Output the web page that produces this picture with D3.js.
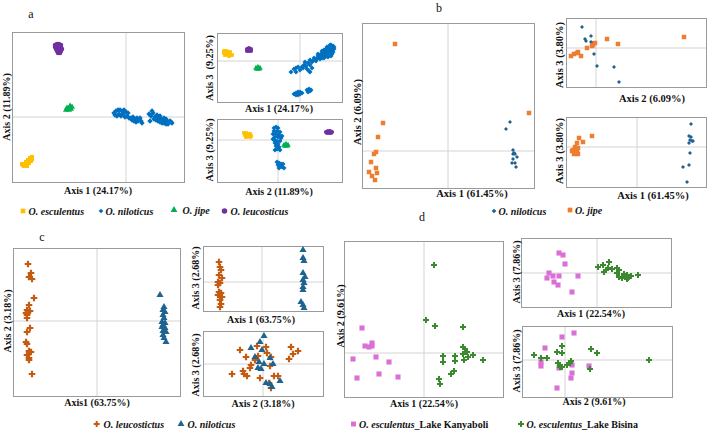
<!DOCTYPE html>
<html><head><meta charset="utf-8">
<script src="https://cdn.jsdelivr.net/npm/d3@7"></script>
<style>
body{margin:0;background:#fff}
svg{display:block}
text{font-family:"Liberation Serif","Times New Roman",serif;fill:#111}
</style>
</head><body>
<svg id="chart" width="709" height="432"></svg>
<script>
// ---------- DATA (PCoA scores) ----------
// Panel a : four species
const aSpecies = ["O. esculentus", "O. niloticus", "O. jipe", "O. leucosticus"];
const aAxisLabels = ["Axis 1 (24.17%)", "Axis 2 (11.89%)", "Axis 3 (9.25%)"];
// Axis1 vs Axis2
const aEsc12 = [[-1.03,-0.48],[-1.01,-0.47],[-0.99,-0.46],[-0.97,-0.44],[-0.95,-0.42],[-0.94,-0.40],[-1.02,-0.49],[-1.00,-0.45],[-0.98,-0.43],[-0.96,-0.41],[-1.00,-0.48],[-0.97,-0.46],[-0.95,-0.44],[-1.04,-0.47],[-0.99,-0.49],[-0.94,-0.42]];
const aNil12 = [[-0.12,0.04],[-0.10,0.06],[-0.08,0.07],[-0.06,0.07],[-0.04,0.06],[-0.02,0.07],[0.00,0.05],[0.02,0.04],[-0.07,0.03],[-0.05,0.01],[-0.03,0.03],[-0.01,0.00],[-0.09,0.01],[-0.11,0.02],[0.01,0.01],[0.03,-0.01],
  [0.05,-0.01],[0.07,0.00],[0.09,-0.02],[0.11,-0.01],[0.13,-0.03],[0.15,-0.04],[0.08,-0.04],[0.10,-0.05],[0.12,-0.04],[0.06,-0.03],[0.14,-0.01],[0.16,-0.06],
  [0.23,0.03],[0.25,0.01],[0.27,0.04],[0.29,0.00],[0.31,0.02],[0.33,-0.01],[0.35,-0.02],[0.37,-0.03],[0.39,-0.04],[0.41,-0.04],[0.43,-0.05],[0.45,-0.05],[0.30,-0.03],[0.32,-0.04],[0.34,-0.05],[0.36,-0.06],[0.38,-0.06],[0.40,-0.07],[0.42,-0.07],[0.44,-0.04],[0.46,-0.06],[0.28,-0.02],[0.24,-0.04],[0.26,0.06],[0.34,0.01],[0.38,-0.01],[0.40,-0.02],[0.36,-0.04],[0.32,0.00]];
const aJip12 = [[-0.60,0.07],[-0.58,0.08],[-0.56,0.09],[-0.54,0.10],[-0.57,0.07],[-0.55,0.08],[-0.59,0.09],[-0.56,0.11]];
const aLeu12 = [[-0.71,0.72],[-0.69,0.73],[-0.67,0.73],[-0.65,0.72],[-0.71,0.70],[-0.69,0.70],[-0.67,0.70],[-0.65,0.70],[-0.70,0.68],[-0.68,0.68],[-0.66,0.68],[-0.64,0.68],[-0.69,0.66],[-0.67,0.66],[-0.65,0.66],[-0.68,0.64],[-0.66,0.64],[-0.70,0.71],[-0.68,0.72]];
// Axis1 vs Axis3
const aEsc13 = [[-0.76,0.10],[-0.74,0.10],[-0.72,0.09],[-0.70,0.09],[-0.76,0.08],[-0.74,0.07],[-0.72,0.07],[-0.70,0.06],[-0.68,0.06],[-0.75,0.06],[-0.71,0.05],[-0.73,0.09]];
const aNil13 = [[0.14,0.01],[0.16,0.02],[0.18,0.03],[0.20,0.04],[0.22,0.05],[0.24,0.06],[0.26,0.07],[0.28,0.09],[0.30,0.11],[0.32,0.13],[0.20,0.06],[0.22,0.08],[0.24,0.09],[0.26,0.10],[0.28,0.12],[0.30,0.14],[0.18,0.05],[0.26,0.05],[0.28,0.06],[0.30,0.08],[0.32,0.10],[0.22,0.03],[0.16,0.00],[0.33,0.15],[0.31,0.16],[0.29,0.14],
  [0.18,0.07],[0.24,0.03],[0.28,0.04],[0.26,0.12],[0.32,0.07],[0.30,0.16],[0.34,0.12],[0.33,0.09],[0.20,0.02],[0.14,0.03],[0.24,0.11],[0.22,0.10],[0.27,0.14],[0.31,0.05],[0.34,0.14],[0.25,0.08],[0.29,0.10],
  [0.10,0.01],[0.12,-0.01],[0.08,-0.02],[0.06,-0.05],[0.04,-0.04],[0.02,-0.06],[-0.02,-0.06],[-0.04,-0.07],[-0.06,-0.08],[-0.09,-0.11],[0.07,-0.08],[0.10,-0.04],[0.12,-0.07],[0.05,-0.01],[0.00,-0.09],[-0.04,-0.11],[0.10,-0.11],[0.09,-0.10],[0.03,-0.07],
  [-0.06,-0.33],[-0.04,-0.32],[-0.02,-0.31],[0.00,-0.31],[-0.04,-0.34],[-0.02,-0.34],[0.00,-0.33],[0.02,-0.32],
  [0.07,-0.29],[0.09,-0.28],[0.11,-0.29],[0.08,-0.31],[0.10,-0.30]];
const aJip13 = [[-0.44,-0.07],[-0.42,-0.06],[-0.40,-0.07],[-0.43,-0.08],[-0.41,-0.08]];
const aLeu13 = [[-0.53,0.12],[-0.51,0.13],[-0.49,0.12],[-0.53,0.10],[-0.51,0.10],[-0.49,0.10],[-0.52,0.11],[-0.50,0.11]];
// Axis2 vs Axis3
const aEsc23 = [[-0.34,0.07],[-0.32,0.07],[-0.30,0.06],[-0.28,0.06],[-0.33,0.05],[-0.31,0.04],[-0.29,0.04],[-0.27,0.04],[-0.32,0.03],[-0.28,0.03]];
const aNil23 = [[-0.04,0.12],[-0.02,0.13],[0.00,0.12],[-0.04,0.09],[-0.01,0.09],[0.02,0.08],[-0.05,0.06],[-0.02,0.06],[0.01,0.05],[-0.03,0.03],[0.00,0.03],[0.03,0.02],[-0.04,0.00],[-0.01,-0.01],[0.02,-0.01],[-0.03,-0.03],[0.00,-0.04],[-0.02,-0.06],[0.01,-0.07],[-0.01,-0.09],[-0.03,-0.10],[0.02,-0.10],[0.04,0.04],[-0.05,0.01],
  [-0.01,-0.22],[0.01,-0.23],[0.03,-0.24],[0.05,-0.24],[0.00,-0.25],[0.02,-0.26],[0.04,-0.27],[0.06,-0.28],[0.01,-0.28]];
const aJip23 = [[0.06,-0.05],[0.08,-0.04],[0.10,-0.05],[0.07,-0.06],[0.09,-0.06]];
const aLeu23 = [[0.48,0.08],[0.50,0.09],[0.52,0.09],[0.54,0.08],[0.49,0.07],[0.51,0.07],[0.53,0.07]];

// Panel b : O. niloticus vs O. jipe
const bSpecies = ["O. niloticus", "O. jipe"];
const bAxisLabels = ["Axis 1 (61.45%)", "Axis 2 (6.09%)", "Axis 3 (3.80%)"];
const bJip12 = [[-0.53,1.07],[-0.65,0.28],[-0.70,0.14],[-0.72,-0.01],[-0.74,-0.03],[-0.77,-0.11],[-0.72,-0.17],[-0.79,-0.21],[-0.71,-0.22],[-0.76,-0.25],[-0.73,-0.29],[0.81,0.38]];
const bNil12 = [[0.62,0.29],[0.58,0.22],[0.65,0.01],[0.66,-0.02],[0.65,-0.03],[0.67,-0.03],[0.69,-0.06],[0.65,-0.08],[0.64,-0.12],[0.67,-0.12],[0.68,-0.16]];
const bNil23 = [[-0.14,0.21],[-0.11,0.09],[-0.10,0.07],[-0.05,0.12],[-0.05,0.06],[-0.04,0.05],[-0.02,-0.06],[0.01,-0.18],[0.18,-0.19],[0.23,-0.34]];
const bJip23 = [[-0.25,-0.08],[-0.22,-0.06],[-0.19,-0.05],[-0.18,-0.04],[-0.15,-0.08],[-0.09,0.00],[-0.04,0.02],[-0.03,0.03],[-0.01,0.05],[0.11,0.09],[0.22,0.04],[0.88,0.11]];
const bJip13 = [[-0.45,0.11],[-0.54,0.05],[-0.58,0.09],[-0.60,0.04],[-0.62,0.00],[-0.64,-0.03],[-0.65,-0.04],[-0.61,-0.06],[-0.59,-0.07],[-0.63,-0.07],[-0.60,-0.04],[-0.59,-0.01]];
const bNil13 = [[0.54,0.23],[0.52,0.11],[0.54,0.10],[0.53,0.07],[0.55,0.06],[0.56,0.06],[0.52,0.04],[0.53,-0.06],[0.46,-0.20],[0.52,-0.18],[0.50,-0.35]];

// Panel c : O. leucostictus vs O. niloticus
const cSpecies = ["O. leucostictus", "O. niloticus"];
const cAxisLabels = ["Axis1 (63.75%)", "Axis 2 (3.18%)", "Axis 3 (2.68%)", "Axis 1 (63.75%)"];
const cLeu12 = [[-0.69,0.57],[-0.66,0.48],[-0.68,0.44],[-0.65,0.42],[-0.63,0.23],[-0.68,0.16],[-0.70,0.11],[-0.67,0.10],[-0.71,0.08],[-0.70,0.06],[-0.69,0.09],[-0.70,0.03],[-0.67,-0.07],[-0.70,-0.11],[-0.71,-0.21],[-0.70,-0.23],[-0.68,-0.30],[-0.66,-0.31],[-0.70,-0.34],[-0.68,-0.37],[-0.68,-0.39],[-0.65,-0.53]];
const cNil12 = [[0.63,0.26],[0.67,0.14],[0.66,0.11],[0.68,0.09],[0.66,0.06],[0.67,0.03],[0.65,-0.01],[0.68,-0.02],[0.66,-0.04],[0.65,-0.06],[0.68,-0.07],[0.66,-0.10],[0.69,-0.11],[0.67,-0.17],[0.69,-0.21],[0.66,-0.14]];
const cLeu13 = [[-0.43,0.20],[-0.42,0.15],[-0.41,0.12],[-0.43,0.07],[-0.40,0.04],[-0.44,0.00],[-0.42,-0.01],[-0.44,-0.03],[-0.43,-0.10],[-0.41,-0.11],[-0.44,-0.13],[-0.40,-0.15],[-0.42,-0.18],[-0.41,-0.22],[-0.42,-0.25]];
const cNil13 = [[0.41,0.32],[0.41,0.24],[0.42,0.21],[0.41,0.09],[0.43,0.05],[0.41,0.02],[0.42,-0.01],[0.41,-0.05],[0.41,-0.08],[0.39,-0.20],[0.41,-0.23],[0.42,-0.26]];
const cLeu23 = [[-0.23,0.14],[-0.17,0.07],[-0.06,0.18],[0.03,0.17],[0.04,0.11],[0.08,0.07],[-0.08,0.04],[-0.12,-0.01],[-0.13,-0.04],[-0.31,-0.10],[-0.20,-0.07],[-0.19,-0.10],[-0.16,-0.12],[-0.03,-0.14],[0.07,-0.02],[0.11,-0.12],[0.15,-0.12],[0.06,-0.19],[0.08,-0.24],[0.28,0.17],[0.35,0.13],[0.30,0.10],[0.26,0.05],[-0.05,0.08]];
const cNil23 = [[0.01,0.28],[-0.03,0.22],[-0.12,0.16],[-0.01,0.14],[-0.08,0.07],[0.07,0.06],[-0.04,0.02],[0.10,0.00],[-0.05,-0.04],[0.01,0.00],[0.03,-0.19],[0.07,-0.20],[0.09,-0.23],[0.17,-0.17],[-0.02,-0.05]];

// Panel d : O. esculentus, two lakes
const dGroups = ["Lake Kanyaboli", "Lake Bisina"];
const dAxisLabels = ["Axis 1 (22.54%)", "Axis 2 (9.61%)", "Axis 3 (7.86%)"];
const dKan12 = [[-0.62,0.25],[-0.59,0.07],[-0.55,0.06],[-0.52,0.10],[-0.52,0.07],[-0.71,-0.06],[-0.48,-0.04],[-0.35,-0.09],[-0.67,-0.25],[-0.45,-0.21],[-0.26,-0.24]];
const dBis12 = [[0.10,0.88],[0.02,0.33],[0.11,0.27],[0.39,0.26],[0.39,0.06],[0.41,0.04],[0.43,0.01],[0.19,-0.03],[0.31,-0.03],[0.39,-0.01],[0.44,-0.04],[0.49,-0.02],[0.59,-0.07],[0.19,-0.09],[0.31,-0.08],[0.40,-0.07],[0.30,-0.18],[0.27,-0.21],[0.15,-0.26],[0.16,-0.31]];
const dKan13 = [[-0.38,0.20],[-0.34,0.18],[-0.32,0.09],[-0.48,0.00],[-0.50,-0.05],[-0.44,-0.03],[-0.38,-0.03],[-0.43,-0.09],[-0.39,-0.12],[-0.19,-0.03],[-0.25,-0.19]];
const dBis13 = [[0.01,0.06],[0.06,0.08],[0.07,0.01],[0.12,0.11],[0.11,0.05],[0.09,0.03],[0.15,0.04],[0.20,0.05],[0.22,0.03],[0.22,-0.04],[0.27,-0.01],[0.28,-0.04],[0.30,-0.06],[0.31,-0.05],[0.34,-0.03],[0.41,-0.02],[0.20,0.00],[0.25,-0.05],[0.30,-0.02]];
const dKan23 = [[-0.03,0.23],[-0.20,0.12],[-0.24,-0.02],[-0.24,-0.06],[-0.06,-0.08],[-0.08,-0.28],[0.09,0.27],[0.07,-0.05],[0.07,-0.13],[0.06,-0.18],[0.24,-0.06]];
const dBis23 = [[-0.31,0.05],[-0.24,0.02],[-0.18,0.02],[-0.08,0.08],[-0.03,0.14],[-0.07,-0.03],[-0.03,-0.07],[0.02,-0.05],[0.05,-0.03],[-0.03,0.07],[0.06,-0.01],[0.26,0.11],[0.32,0.07],[0.84,0.00],[0.25,-0.09],[-0.05,-0.07]];

// ---------- STYLE ----------
const C = {
  yellow:"#FFC000", blue:"#0070C0", green:"#00B050", purple:"#7030A0",
  orange:"#ED7D31", teal:"#1F6391", rust:"#C55A11", pink:"#DA70D6", dgreen:"#3B8A2F"
};
const SYM = {square:d3.symbolSquare, diamond:d3.symbolDiamond2, triangle:d3.symbolTriangle, circle:d3.symbolCircle, cross:d3.symbolCross};

const svg = d3.select("#chart");

function ser(data, shape, color, size){ return {data, shape, color, size}; }

const plots = [
  // panel a
  {f:[12,32,172,150], xd:[-1.14,0.58], yd:[-0.65,0.85], xl:[aAxisLabels[0],98,190], yl:[aAxisLabels[1],6,107], fs:10,
   s:[ser(aNil12,"diamond",C.blue,18), ser(aJip12,"triangle",C.green,16), ser(aLeu12,"circle",C.purple,16), ser(aEsc12,"square",C.yellow,16)]},
  {f:[217,33,125,69], xd:[-0.83,0.42], yd:[-0.41,0.28], xl:[aAxisLabels[0],279,108], yl:["Axis 3\u00a0\u00a0(9.25%)",209,68], fs:10,
   s:[ser(aNil13,"diamond",C.blue,16), ser(aJip13,"triangle",C.green,14), ser(aLeu13,"circle",C.purple,14), ser(aEsc13,"square",C.yellow,14)]},
  {f:[217,119,125,63], xd:[-0.61,0.64], yd:[-0.42,0.21], xl:[aAxisLabels[1],279,191], yl:[aAxisLabels[2],209,150], fs:10,
   s:[ser(aNil23,"diamond",C.blue,16), ser(aJip23,"triangle",C.green,14), ser(aLeu23,"circle",C.purple,14), ser(aEsc23,"square",C.yellow,14)]},
  // panel b
  {f:[362,23,172,165], xd:[-0.86,0.86], yd:[-0.37,1.28], xl:[bAxisLabels[0],472,193], yl:[bAxisLabels[1],357,112], fs:10.5,
   s:[ser(bJip12,"square",C.orange,20), ser(bNil12,"diamond",C.teal,10)]},
  {f:[566,18,140,69], xd:[-0.30,1.10], yd:[-0.39,0.30], xl:[bAxisLabels[1],652,98], yl:[bAxisLabels[2],559,55], fs:10.5,
   s:[ser(bNil23,"diamond",C.teal,10), ser(bJip23,"square",C.orange,20)]},
  {f:[566,117,140,70], xd:[-0.71,0.69], yd:[-0.40,0.30], xl:[bAxisLabels[0],653,195], yl:[bAxisLabels[2],559,151], fs:10.5,
   s:[ser(bJip13,"square",C.orange,20), ser(bNil13,"diamond",C.teal,10)]},
  // panel c
  {f:[13,248,167,148], xd:[-0.84,0.83], yd:[-0.75,0.73], xl:[cAxisLabels[0],97,402], yl:[cAxisLabels[1],7,321], fs:10,
   s:[ser(cLeu12,"cross",C.rust,24), ser(cNil12,"triangle",C.teal,22)]},
  {f:[203,246,120,65], xd:[-0.59,0.61], yd:[-0.29,0.36], xl:[cAxisLabels[3],261,319], yl:[cAxisLabels[2],195,278], fs:10,
   s:[ser(cLeu13,"cross",C.rust,24), ser(cNil13,"triangle",C.teal,22)]},
  {f:[203,331,120,65], xd:[-0.60,0.60], yd:[-0.32,0.33], xl:[cAxisLabels[1],263,403], yl:[cAxisLabels[2],195,365], fs:10,
   s:[ser(cLeu23,"cross",C.rust,24), ser(cNil23,"triangle",C.teal,22)]},
  // panel d
  {f:[344,241,159,156], xd:[-0.80,0.79], yd:[-0.44,1.12], xl:[dAxisLabels[0],424,403], yl:[dAxisLabels[1],340,316], fs:10,
   s:[ser(dKan12,"square",C.pink,26), ser(dBis12,"cross",C.dgreen,20)]},
  {f:[521,238,150,69], xd:[-0.76,0.74], yd:[-0.34,0.35], xl:[dAxisLabels[0],591,313], yl:[dAxisLabels[2],516,272], fs:10,
   s:[ser(dKan13,"square",C.pink,26), ser(dBis13,"cross",C.dgreen,20)]},
  {f:[522,326,150,71], xd:[-0.43,1.07], yd:[-0.37,0.34], xl:[dAxisLabels[1],594,401], yl:[dAxisLabels[2],516,361], fs:10,
   s:[ser(dKan23,"square",C.pink,26), ser(dBis23,"cross",C.dgreen,20)]}
];

plots.forEach(p => {
  const [fx, fy, fw, fh] = p.f;
  const x = d3.scaleLinear().domain(p.xd).range([fx, fx+fw]);
  const y = d3.scaleLinear().domain(p.yd).range([fy+fh, fy]);
  const g = svg.append("g");
  // crosshair at zero
  g.append("line").attr("x1", x(0)).attr("x2", x(0)).attr("y1", y(p.yd[0])).attr("y2", y(p.yd[1]))
    .attr("stroke", "#D4D4D4").attr("stroke-width", 1);
  g.append("line").attr("x1", x(p.xd[0])).attr("x2", x(p.xd[1])).attr("y1", y(0)).attr("y2", y(0))
    .attr("stroke", "#D4D4D4").attr("stroke-width", 1);
  // frame
  g.append("rect").attr("x", fx+0.5).attr("y", fy+0.5).attr("width", fw).attr("height", fh)
    .attr("fill", "none").attr("stroke", "#9A9A9A").attr("stroke-width", 1);
  // points
  p.s.forEach(s => {
    const sym = d3.symbol().type(SYM[s.shape]).size(s.size);
    g.append("g").selectAll("path").data(s.data).join("path")
      .attr("d", sym)
      .attr("transform", d => `translate(${x(d[0])},${y(d[1])})`)
      .attr("fill", s.color);
  });
  // axis titles
  g.append("text").attr("x", p.xl[1]).attr("y", p.xl[2]).attr("text-anchor", "middle")
    .attr("dominant-baseline", "central").attr("font-weight", "bold").attr("font-size", p.fs).text(p.xl[0]);
  g.append("text").attr("transform", `translate(${p.yl[1]},${p.yl[2]}) rotate(-90)`).attr("text-anchor", "middle")
    .attr("dominant-baseline", "central").attr("font-weight", "bold").attr("font-size", p.fs).text(p.yl[0]);
});

// panel letters
[["a",31,14],["b",439,8],["c",42,237],["d",422,217]].forEach(([t,px,py]) =>
  svg.append("text").attr("x", px).attr("y", py).attr("text-anchor", "middle").attr("dominant-baseline","central")
    .attr("font-size", 12).text(t));

// legends
function legendItem(mx, my, shape, color, size, tx, parts){
  svg.append("path").attr("d", d3.symbol().type(SYM[shape]).size(size)())
    .attr("transform", `translate(${mx},${my})`).attr("fill", color);
  const t = svg.append("text").attr("x", tx).attr("y", my).attr("dominant-baseline", "central")
    .attr("font-size", 10).attr("font-weight", "bold");
  parts.forEach(([str, it]) => t.append("tspan").attr("font-style", it ? "italic" : "normal").text(str));
}
legendItem(23, 211, "square", C.yellow, 22, 28.5, [[aSpecies[0], true]]);
legendItem(101, 211, "diamond", C.blue, 14, 105.5, [[aSpecies[1], true]]);
legendItem(174, 210, "triangle", C.green, 20, 182.5, [[aSpecies[2], true]]);
legendItem(224.5, 211, "circle", C.purple, 24, 230.5, [[aSpecies[3], true]]);

legendItem(494, 211, "diamond", C.teal, 14, 498.5, [[bSpecies[0], true]]);
legendItem(570, 210, "square", C.orange, 22, 575, [[bSpecies[1], true]]);

legendItem(96.7, 424, "cross", C.rust, 20, 103.5, [[cSpecies[0], true]]);
legendItem(181, 424, "triangle", C.teal, 20, 187.5, [[cSpecies[1], true]]);

legendItem(353.5, 424, "square", C.pink, 24, 359, [["O. esculentus", true], ["_" + dGroups[0], false]]);
legendItem(521, 424, "cross", C.dgreen, 20, 526.5, [["O. esculentus", true], ["_" + dGroups[1], false]]);
</script>
</body></html>
